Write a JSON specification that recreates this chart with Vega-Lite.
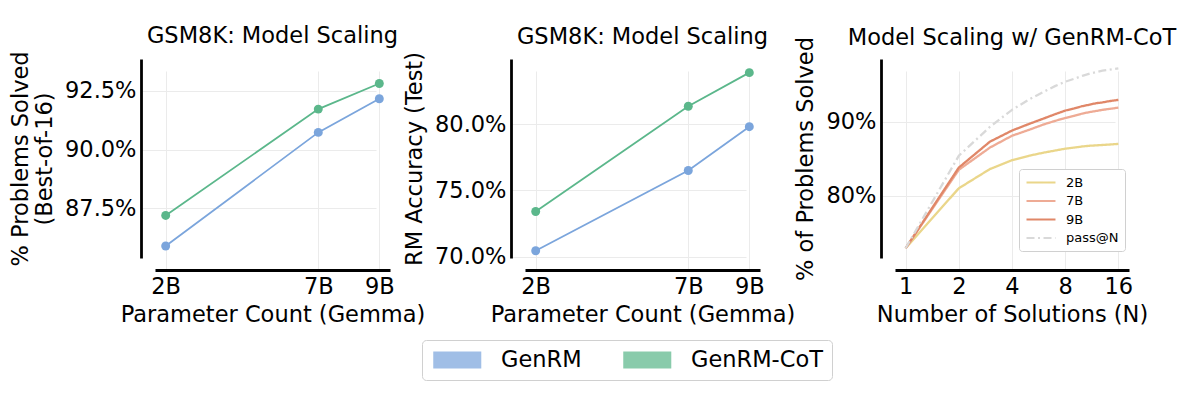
{
  "$schema": "https://vega.github.io/schema/vega-lite/v6.json",
  "background": "white",
  "padding": {"left": 9, "top": 25, "right": 5, "bottom": 5},
  "bounds": "flush",
  "spacing": 135,
  "datasets": {
    "bo16": [
      {"params": 2, "method": "GenRM", "solved": 85.9},
      {"params": 7, "method": "GenRM", "solved": 90.73},
      {"params": 9, "method": "GenRM", "solved": 92.16},
      {"params": 2, "method": "GenRM-CoT", "solved": 87.2},
      {"params": 7, "method": "GenRM-CoT", "solved": 91.72},
      {"params": 9, "method": "GenRM-CoT", "solved": 92.81}
    ],
    "rmacc": [
      {"params": 2, "method": "GenRM", "acc": 70.45},
      {"params": 7, "method": "GenRM", "acc": 76.51},
      {"params": 9, "method": "GenRM", "acc": 79.82},
      {"params": 2, "method": "GenRM-CoT", "acc": 73.41},
      {"params": 7, "method": "GenRM-CoT", "acc": 81.36},
      {"params": 9, "method": "GenRM-CoT", "acc": 83.9}
    ],
    "scaling": [
      {"n": 1, "model": "2B", "solved": 72.9}, {"n": 2, "model": "2B", "solved": 81.0}, {"n": 3, "model": "2B", "solved": 83.6}, {"n": 4, "model": "2B", "solved": 84.8},
      {"n": 5, "model": "2B", "solved": 85.4}, {"n": 6, "model": "2B", "solved": 85.8}, {"n": 7, "model": "2B", "solved": 86.1}, {"n": 8, "model": "2B", "solved": 86.35},
      {"n": 9, "model": "2B", "solved": 86.5}, {"n": 10, "model": "2B", "solved": 86.65}, {"n": 11, "model": "2B", "solved": 86.75}, {"n": 12, "model": "2B", "solved": 86.8},
      {"n": 13, "model": "2B", "solved": 86.85}, {"n": 14, "model": "2B", "solved": 86.9}, {"n": 15, "model": "2B", "solved": 86.95}, {"n": 16, "model": "2B", "solved": 87.0},
      {"n": 1, "model": "7B", "solved": 72.9}, {"n": 2, "model": "7B", "solved": 83.5}, {"n": 3, "model": "7B", "solved": 86.5}, {"n": 4, "model": "7B", "solved": 88.1},
      {"n": 5, "model": "7B", "solved": 88.9}, {"n": 6, "model": "7B", "solved": 89.6}, {"n": 7, "model": "7B", "solved": 90.1}, {"n": 8, "model": "7B", "solved": 90.5},
      {"n": 9, "model": "7B", "solved": 90.8}, {"n": 10, "model": "7B", "solved": 91.1}, {"n": 11, "model": "7B", "solved": 91.3}, {"n": 12, "model": "7B", "solved": 91.45},
      {"n": 13, "model": "7B", "solved": 91.6}, {"n": 14, "model": "7B", "solved": 91.7}, {"n": 15, "model": "7B", "solved": 91.8}, {"n": 16, "model": "7B", "solved": 91.9},
      {"n": 1, "model": "9B", "solved": 72.9}, {"n": 2, "model": "9B", "solved": 83.8}, {"n": 3, "model": "9B", "solved": 87.3}, {"n": 4, "model": "9B", "solved": 88.8},
      {"n": 5, "model": "9B", "solved": 89.7}, {"n": 6, "model": "9B", "solved": 90.4}, {"n": 7, "model": "9B", "solved": 91.0}, {"n": 8, "model": "9B", "solved": 91.5},
      {"n": 9, "model": "9B", "solved": 91.8}, {"n": 10, "model": "9B", "solved": 92.1}, {"n": 11, "model": "9B", "solved": 92.3}, {"n": 12, "model": "9B", "solved": 92.5},
      {"n": 13, "model": "9B", "solved": 92.6}, {"n": 14, "model": "9B", "solved": 92.75}, {"n": 15, "model": "9B", "solved": 92.85}, {"n": 16, "model": "9B", "solved": 92.95},
      {"n": 1, "model": "pass@N", "solved": 72.9}, {"n": 2, "model": "pass@N", "solved": 85.4}, {"n": 3, "model": "pass@N", "solved": 89.3}, {"n": 4, "model": "pass@N", "solved": 91.6},
      {"n": 5, "model": "pass@N", "solved": 93.0}, {"n": 6, "model": "pass@N", "solved": 94.0}, {"n": 7, "model": "pass@N", "solved": 94.8}, {"n": 8, "model": "pass@N", "solved": 95.4},
      {"n": 9, "model": "pass@N", "solved": 95.8}, {"n": 10, "model": "pass@N", "solved": 96.2}, {"n": 11, "model": "pass@N", "solved": 96.5}, {"n": 12, "model": "pass@N", "solved": 96.7},
      {"n": 13, "model": "pass@N", "solved": 96.9}, {"n": 14, "model": "pass@N", "solved": 97.0}, {"n": 15, "model": "pass@N", "solved": 97.1}, {"n": 16, "model": "pass@N", "solved": 97.2}
    ]
  },
  "hconcat": [
    {
      "width": 235,
      "height": 199,
      "title": {"text": "GSM8K: Model Scaling", "offset": 3},
      "data": {"name": "bo16"},
      "encoding": {
        "x": {"field": "params", "type": "quantitative", "scale": {"domain": [1.65, 9.35], "nice": false, "zero": false},
              "axis": {"values": [2, 7, 9], "labelExpr": "datum.value + 'B'", "title": "Parameter Count (Gemma)"}},
        "y": {"field": "solved", "type": "quantitative", "scale": {"domain": [85.39, 93.85], "nice": false, "zero": false},
              "axis": {"values": [87.5, 90, 92.5], "labelExpr": "format(datum.value, '.1f') + '%'", "title": ["% Problems Solved", "(Best-of-16)"]}},
        "color": {"field": "method", "type": "nominal", "scale": {"domain": ["GenRM", "GenRM-CoT"], "range": ["#7ba5dc", "#5bb78b"]}, "legend": null}
      },
      "layer": [
        {"mark": {"type": "line", "strokeWidth": 1.8}},
        {"mark": {"type": "point", "filled": true, "size": 80, "opacity": 1}}
      ]
    },
    {
      "width": 235,
      "height": 199,
      "title": {"text": "GSM8K: Model Scaling", "offset": 3},
      "data": {"name": "rmacc"},
      "encoding": {
        "x": {"field": "params", "type": "quantitative", "scale": {"domain": [1.65, 9.35], "nice": false, "zero": false},
              "axis": {"values": [2, 7, 9], "labelExpr": "datum.value + 'B'", "title": "Parameter Count (Gemma)"}},
        "y": {"field": "acc", "type": "quantitative", "scale": {"domain": [69.9, 84.93], "nice": false, "zero": false},
              "axis": {"values": [70, 75, 80], "labelExpr": "format(datum.value, '.1f') + '%'", "title": "RM Accuracy (Test)"}},
        "color": {"field": "method", "type": "nominal", "scale": {"domain": ["GenRM", "GenRM-CoT"], "range": ["#7ba5dc", "#5bb78b"]},
                  "legend": {"title": null, "orient": "none", "legendX": -103, "legendY": 281, "direction": "horizontal",
                             "symbolType": "M-1,-1H4.65V1H-1Z", "symbolSize": 289, "labelOffset": 48, "labelFontSize": 22.5,
                             "columnPadding": 38, "padding": 8.5, "strokeColor": "#d0d0d0", "cornerRadius": 4, "fillColor": "white",
                             "symbolOpacity": 0.72, "symbolStrokeWidth": 0}}
      },
      "layer": [
        {"mark": {"type": "line", "strokeWidth": 1.8}},
        {"mark": {"type": "point", "filled": true, "size": 80, "opacity": 1}}
      ]
    },
    {
      "width": 234,
      "height": 199,
      "title": {"text": "Model Scaling w/ GenRM-CoT", "offset": -13},
      "data": {"name": "scaling"},
      "mark": {"type": "line", "strokeWidth": 2.3},
      "encoding": {
        "x": {"field": "n", "type": "quantitative", "scale": {"type": "log", "base": 2, "domain": [0.8706, 18.379], "nice": false},
              "axis": {"values": [1, 2, 4, 8, 16], "labelExpr": "format(datum.value, 'd')", "title": "Number of Solutions (N)"}},
        "y": {"field": "solved", "type": "quantitative", "scale": {"domain": [71.58, 98.47], "nice": false, "zero": false},
              "axis": {"values": [80, 90], "labelExpr": "format(datum.value, 'd') + '%'", "title": "% of Problems Solved"}},
        "color": {"field": "model", "type": "nominal", "scale": {"domain": ["2B", "7B", "9B", "pass@N"], "range": ["#ead68a", "#eeab95", "#e08768", "#d9d9d9"]},
                  "legend": {"title": null, "orient": "none", "legendX": 124, "legendY": 110,
                             "symbolType": "M-1,0H3.83", "symbolSize": 144, "symbolStrokeWidth": 2.2, "labelOffset": 26, "labelFontSize": 13,
                             "rowPadding": 3.5, "padding": 6, "strokeColor": "#d0d0d0", "cornerRadius": 3, "fillColor": "white"}},
        "strokeDash": {"field": "model", "type": "nominal", "scale": {"domain": ["2B", "7B", "9B", "pass@N"], "range": [[1, 0], [1, 0], [1, 0], [8, 3.5, 2, 3.5]]},
                  "legend": {"title": null, "orient": "none", "legendX": 124, "legendY": 110,
                             "symbolType": "M-1,0H3.83", "symbolSize": 144, "symbolStrokeWidth": 2.2, "labelOffset": 26, "labelFontSize": 13,
                             "rowPadding": 3.5, "padding": 6, "strokeColor": "#d0d0d0", "cornerRadius": 3, "fillColor": "white"}}
      }
    }
  ],
  "resolve": {"scale": {"color": "independent", "strokeDash": "independent", "x": "independent", "y": "independent"}, "legend": {"color": "independent", "strokeDash": "independent"}},
  "config": {
    "font": "DejaVu Sans",
    "view": {"stroke": null},
    "title": {"fontSize": 22.5, "fontWeight": "normal", "color": "black", "anchor": "middle", "frame": "group"},
    "axis": {
      "domainColor": "black", "domainWidth": 2.8, "ticks": false, "tickSize": 0,
      "labelFontSize": 22.5, "labelColor": "black", "labelPadding": 5,
      "titleFontSize": 22.5, "titleFontWeight": "normal", "titleColor": "black",
      "gridColor": "#ebebeb", "gridWidth": 1, "labelFlush": false, "labelOverlap": false
    },
    "axisX": {"offset": 12, "titlePadding": 6},
    "axisY": {"offset": 14, "titlePadding": 8},
    "legend": {"labelColor": "black", "labelFont": "DejaVu Sans"}
  }
}
